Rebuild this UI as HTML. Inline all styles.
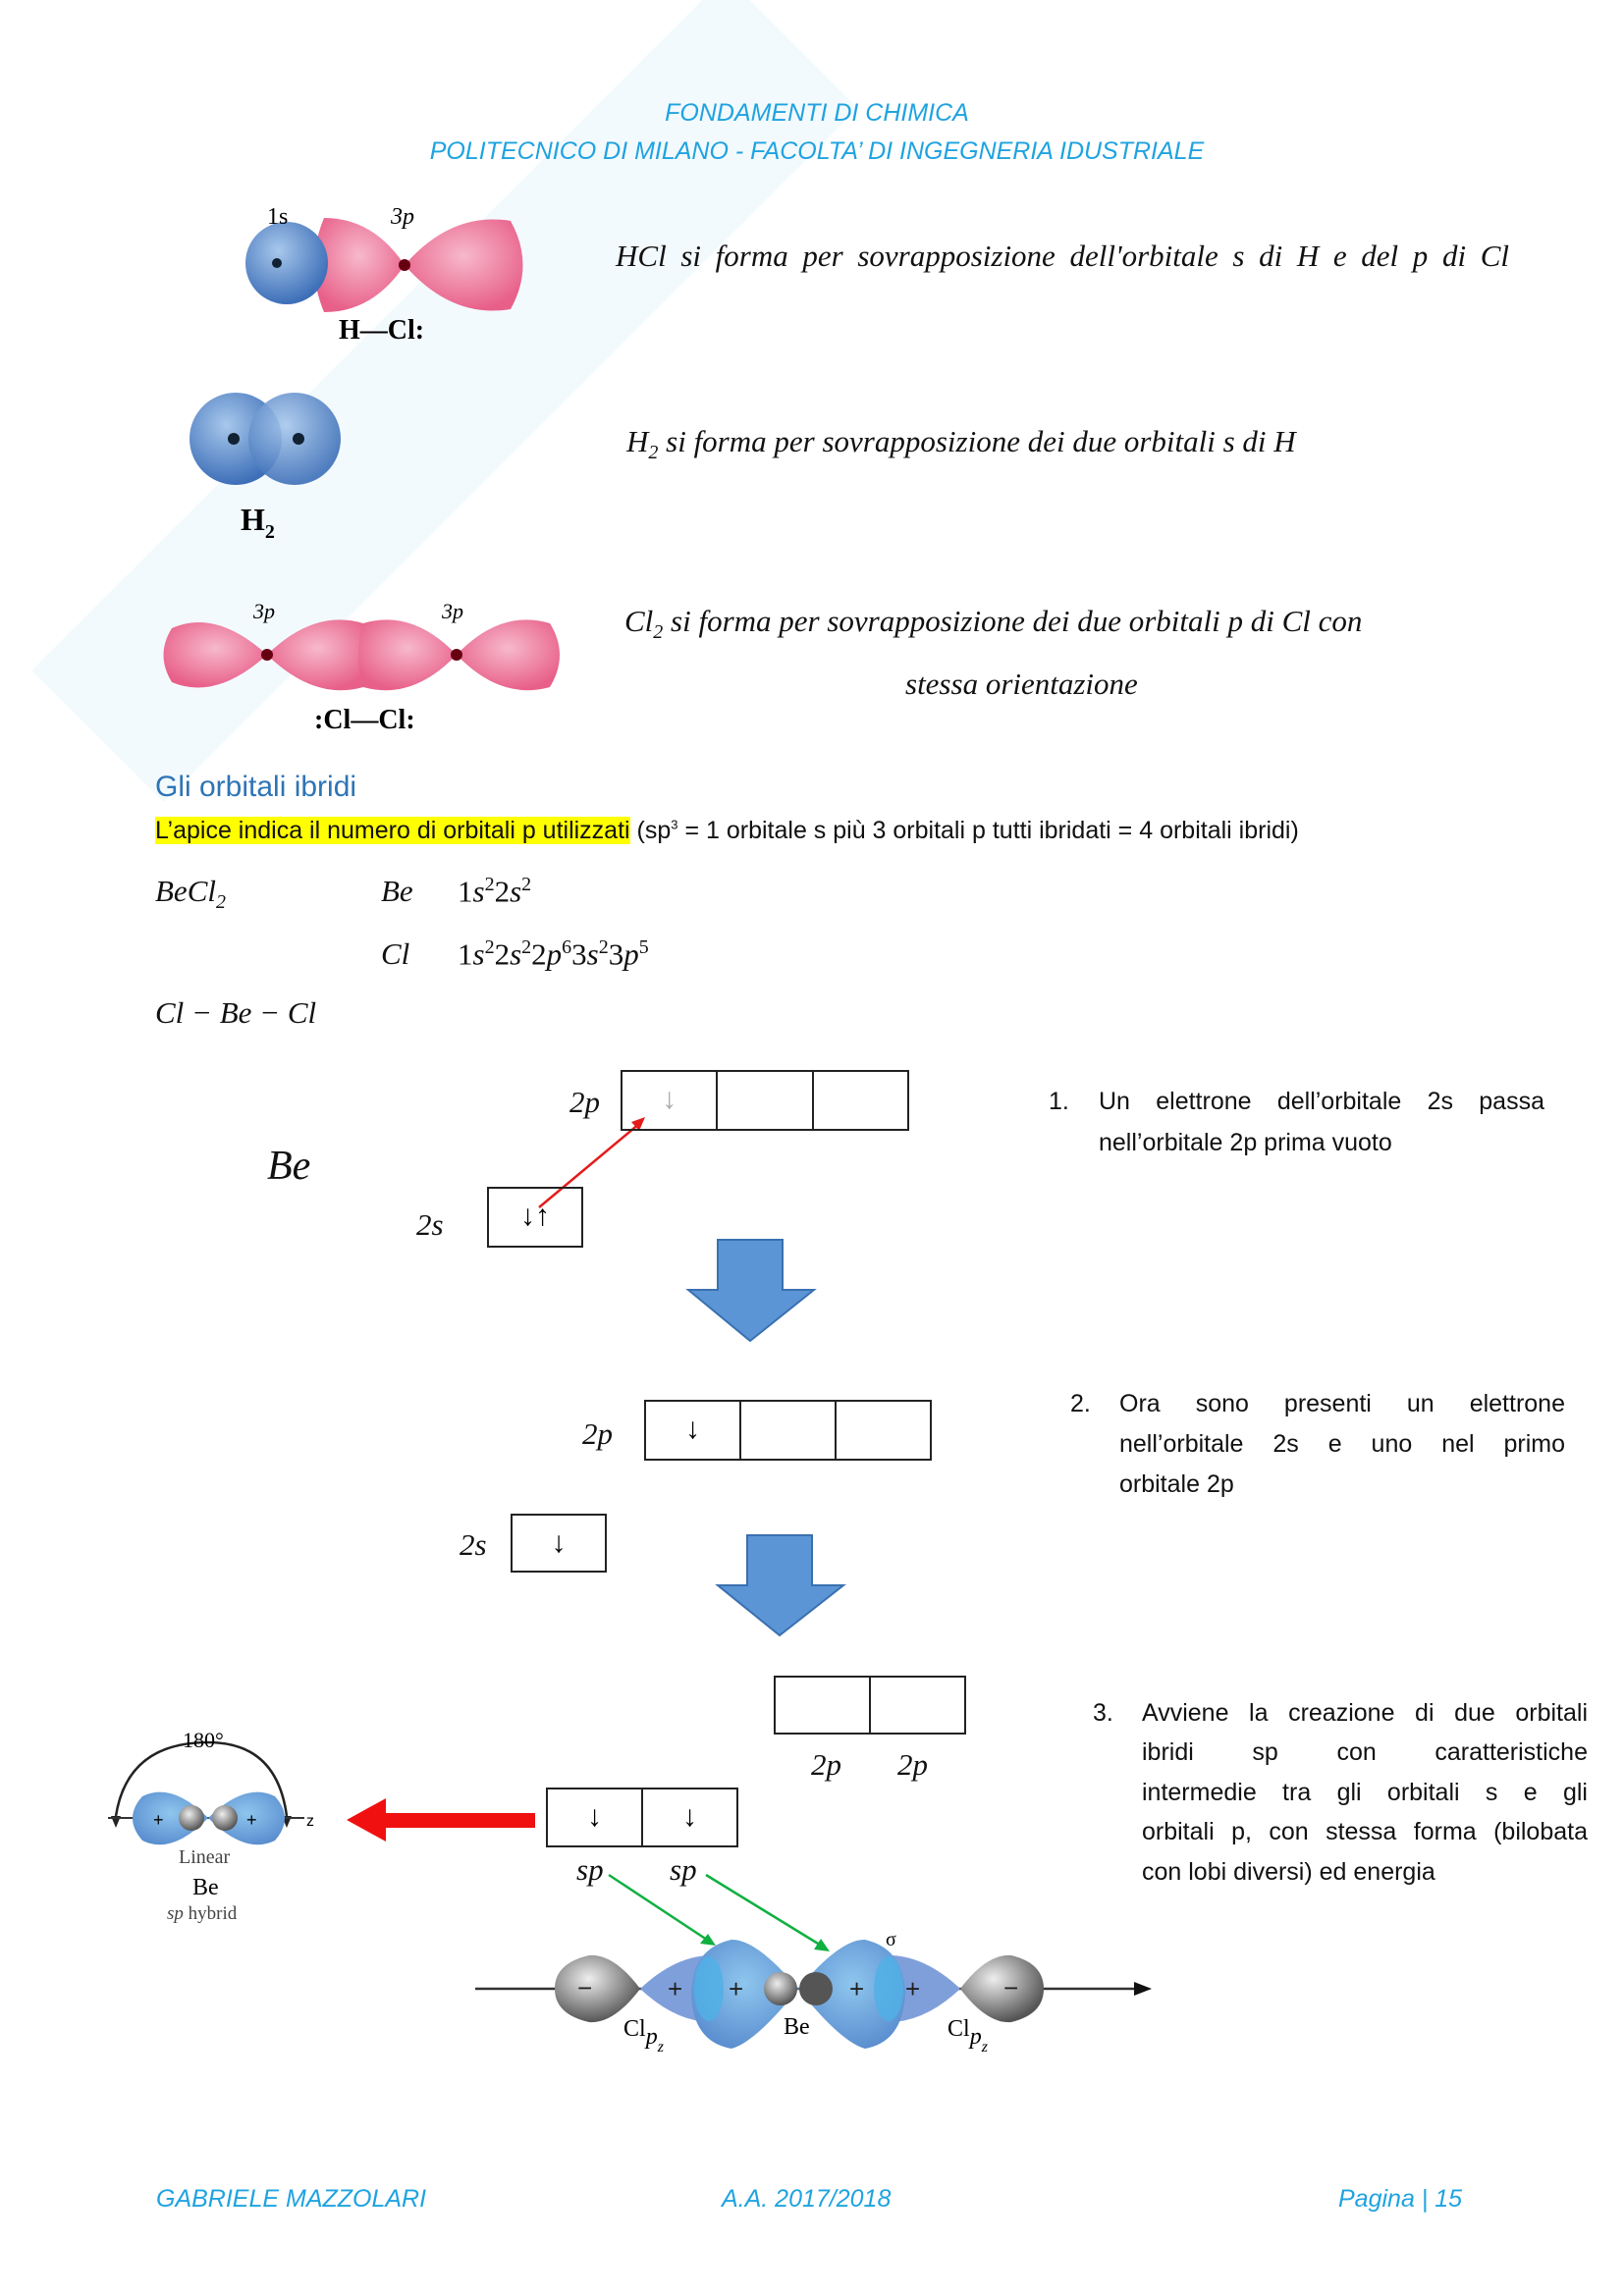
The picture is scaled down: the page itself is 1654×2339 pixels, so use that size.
<!DOCTYPE html>
<html><head><meta charset="utf-8">
<style>
body{margin:0;background:#fff;}
#p{position:relative;width:1654px;height:2339px;overflow:hidden;background:#fff;font-family:"Liberation Sans",sans-serif;}
.a{position:absolute;white-space:nowrap;}
.hd{color:#1fa3e0;font-style:italic;font-size:25px;}
.m{font-family:"Liberation Serif",serif;font-style:italic;font-size:31px;color:#111;}
.t{font-size:25px;color:#111;}
.j{text-align:justify;text-align-last:justify;white-space:normal;}
.box{position:absolute;border:2px solid #222;box-sizing:border-box;display:flex;}
.box div{flex:1;border-left:2px solid #222;font-size:30px;text-align:center;line-height:56px;}
.box div:first-child{border-left:none;}
</style></head><body><div id="p">
<svg class="a" style="left:0;top:0" width="1654" height="2339">
<defs>
<radialGradient id="pk" cx="50%" cy="40%" r="60%"><stop offset="0" stop-color="#f7b9cc"/><stop offset="1" stop-color="#e8608a"/></radialGradient>
<radialGradient id="bl" cx="40%" cy="35%" r="65%"><stop offset="0" stop-color="#a8c8ec"/><stop offset="1" stop-color="#3d6fb8"/></radialGradient>
<radialGradient id="lb" cx="50%" cy="40%" r="60%"><stop offset="0" stop-color="#8ec6ee"/><stop offset="1" stop-color="#5b8fd0"/></radialGradient>
<radialGradient id="gr" cx="40%" cy="35%" r="65%"><stop offset="0" stop-color="#eee"/><stop offset="1" stop-color="#555"/></radialGradient>
</defs>
<!-- watermark -->
<g opacity="0.06" transform="rotate(-45 400 400)"><rect x="-60" y="340" width="1000" height="190" fill="#3aa3e0"/></g>
<!-- HCl -->
<path d="M412 270 Q380 222 330 222 Q310 270 330 318 Q380 318 412 270Z" fill="url(#pk)"/>
<path d="M412 270 Q460 215 520 225 Q545 270 520 315 Q460 325 412 270Z" fill="url(#pk)"/>
<circle cx="292" cy="268" r="42" fill="url(#bl)"/><circle cx="282" cy="268" r="5" fill="#123"/>
<circle cx="412" cy="270" r="6" fill="#601"/>
<text x="272" y="228" font-family="Liberation Serif" font-size="24">1s</text>
<text x="398" y="228" font-family="Liberation Serif" font-size="24" font-style="italic">3p</text>
<text x="345" y="345" font-family="Liberation Serif" font-size="28" font-weight="bold">H—Cl:</text>
<!-- H2 -->
<circle cx="240" cy="447" r="47" fill="url(#bl)"/><circle cx="300" cy="447" r="47" fill="url(#bl)" opacity="0.9"/>
<circle cx="238" cy="447" r="6" fill="#123"/><circle cx="304" cy="447" r="6" fill="#123"/>
<text x="245" y="540" font-family="Liberation Serif" font-size="32" font-weight="bold">H<tspan font-size="20" dy="8">2</tspan></text>
<!-- Cl2 -->
<path d="M272 667 Q220 620 175 640 Q158 667 175 695 Q220 714 272 667Z" fill="url(#pk)"/>
<path d="M272 667 Q320 620 370 635 Q380 667 370 700 Q320 714 272 667Z" fill="url(#pk)"/>
<path d="M465 667 Q420 620 370 635 Q360 667 370 700 Q420 714 465 667Z" fill="url(#pk)"/>
<path d="M465 667 Q510 620 560 635 Q580 667 560 700 Q510 714 465 667Z" fill="url(#pk)"/>
<circle cx="272" cy="667" r="6" fill="#601"/><circle cx="465" cy="667" r="6" fill="#601"/>
<text x="258" y="630" font-family="Liberation Serif" font-size="22" font-style="italic">3p</text>
<text x="450" y="630" font-family="Liberation Serif" font-size="22" font-style="italic">3p</text>
<text x="320" y="742" font-family="Liberation Serif" font-size="28" font-weight="bold">:Cl—Cl:</text>
<!-- red arrow 1 -->
<line x1="549" y1="1230" x2="652" y2="1144" stroke="#e51b1b" stroke-width="2.5"/>
<polygon points="657,1138 643,1143 651,1152" fill="#e51b1b"/>
<!-- blue arrows -->
<polygon points="731,1263 797,1263 797,1314 829,1314 764,1366 701,1314 731,1314" fill="#5b95d5" stroke="#3a70b0" stroke-width="2"/>
<polygon points="761,1564 827,1564 827,1615 859,1615 794,1666 731,1615 761,1615" fill="#5b95d5" stroke="#3a70b0" stroke-width="2"/>
<!-- big red arrow -->
<rect x="385" y="1847" width="160" height="15" fill="#f01010"/>
<polygon points="353,1854 393,1832 393,1876" fill="#f01010"/>
<!-- green arrows -->
<line x1="620" y1="1910" x2="723" y2="1978" stroke="#10b040" stroke-width="2.5"/>
<polygon points="729,1982 713,1980 721,1970" fill="#10b040"/>
<line x1="719" y1="1910" x2="838" y2="1983" stroke="#10b040" stroke-width="2.5"/>
<polygon points="845,1988 829,1986 836,1975" fill="#10b040"/>
<!-- linear Be -->
<path d="M118 1850 Q130 1775 212 1775 Q282 1775 292 1850" fill="none" stroke="#222" stroke-width="2.5"/>
<polygon points="113,1850 123,1850 118,1862" fill="#222"/><polygon points="287,1850 297,1850 292,1862" fill="#222"/>
<line x1="110" y1="1852" x2="310" y2="1852" stroke="#333" stroke-width="2"/>
<path d="M212 1852 Q175 1815 145 1830 Q125 1852 145 1875 Q175 1890 212 1852Z" fill="url(#lb)"/>
<path d="M212 1852 Q250 1815 280 1830 Q300 1852 280 1875 Q250 1890 212 1852Z" fill="url(#lb)"/>
<circle cx="195" cy="1852" r="13" fill="url(#gr)"/><circle cx="229" cy="1852" r="13" fill="url(#gr)"/>
<text x="156" y="1860" font-size="18">+</text><text x="251" y="1860" font-size="18">+</text>
<text x="312" y="1860" font-size="16">z</text>
<text x="186" y="1780" font-family="Liberation Serif" font-size="22">180°</text>
<text x="182" y="1898" font-family="Liberation Serif" font-size="20" fill="#444">Linear</text>
<text x="196" y="1930" font-family="Liberation Serif" font-size="24">Be</text>
<text x="170" y="1955" font-family="Liberation Serif" font-size="19" fill="#444"><tspan font-style="italic">sp</tspan> hybrid</text>
<!-- bottom orbital -->
<line x1="484" y1="2026" x2="1160" y2="2026" stroke="#333" stroke-width="2.5"/>
<polygon points="1173,2026 1155,2019 1155,2033" fill="#111"/>
<path d="M652 2026 Q625 1990 600 1992 Q565 2000 565 2026 Q565 2052 600 2060 Q625 2062 652 2026Z" fill="url(#gr)"/>
<path d="M978 2026 Q1005 1990 1030 1992 Q1063 2000 1063 2026 Q1063 2052 1030 2060 Q1005 2062 978 2026Z" fill="url(#gr)"/>
<path d="M652 2026 Q690 1990 730 1992 L730 2060 Q690 2062 652 2026Z" fill="#7f9fdb"/>
<path d="M978 2026 Q940 1990 900 1992 L900 2060 Q940 2062 978 2026Z" fill="#7f9fdb"/>
<path d="M813 2026 Q770 1975 745 1976 Q705 1985 704 2030 Q705 2080 745 2087 Q770 2080 813 2026Z" fill="url(#lb)"/>
<path d="M813 2026 Q856 1975 881 1976 Q920 1985 922 2030 Q920 2080 881 2087 Q856 2080 813 2026Z" fill="url(#lb)"/>
<ellipse cx="722" cy="2026" rx="15" ry="33" fill="#4fb0e6" opacity="0.8"/>
<ellipse cx="905" cy="2026" rx="15" ry="33" fill="#4fb0e6" opacity="0.8"/>
<circle cx="795" cy="2026" r="17" fill="url(#gr)"/><circle cx="831" cy="2026" r="17" fill="#555"/>
<g font-size="26" fill="#222"><text x="680" y="2035">+</text><text x="742" y="2035">+</text><text x="865" y="2035">+</text><text x="922" y="2035">+</text><text x="588" y="2034">−</text><text x="1022" y="2034">−</text></g>
<g font-family="Liberation Serif" font-size="24"><text x="635" y="2074">Cl<tspan font-style="italic" dy="8">p</tspan><tspan font-style="italic" font-size="16" dy="8">z</tspan></text>
<text x="798" y="2072">Be</text>
<text x="965" y="2074">Cl<tspan font-style="italic" dy="8">p</tspan><tspan font-style="italic" font-size="16" dy="8">z</tspan></text>
<text x="902" y="1982" font-size="20">σ</text></g>
</svg>

<div class="a hd" style="left:0;width:1664px;text-align:center;top:101px">FONDAMENTI DI CHIMICA</div>
<div class="a hd" style="left:0;width:1664px;text-align:center;top:140px">POLITECNICO DI MILANO - FACOLTA’ DI INGEGNERIA IDUSTRIALE</div>

<div class="a m" style="left:627px;top:243px;width:910px;" ><span style="display:block" class="j">HCl si forma per sovrapposizione dell'orbitale s di H e del p di Cl</span></div>
<div class="a m" style="left:638px;top:432px">H<sub style="font-size:20px">2</sub> si forma per sovrapposizione dei due orbitali s di H</div>
<div class="a m" style="left:636px;top:615px">Cl<sub style="font-size:20px">2</sub> si forma per sovrapposizione dei due orbitali p di Cl con</div>
<div class="a m" style="left:922px;top:679px">stessa orientazione</div>

<div class="a" style="left:158px;top:785px;font-size:30px;color:#2e74b5">Gli orbitali ibridi</div>
<div class="a t" style="left:158px;top:832px;"><span style="background:#ffff00">L’apice indica il numero di orbitali p utilizzati</span> (sp<sup style="font-size:13px">3</sup> = 1 orbitale s più 3 orbitali p tutti ibridati = 4 orbitali ibridi)</div>

<div class="a m" style="left:158px;top:890px">BeCl<sub style="font-size:20px">2</sub></div>
<div class="a m" style="left:388px;top:890px">Be</div>
<div class="a m" style="left:466px;top:890px;font-style:normal">1<i>s</i><sup style="font-size:20px">2</sup>2<i>s</i><sup style="font-size:20px">2</sup></div>
<div class="a m" style="left:388px;top:954px">Cl</div>
<div class="a m" style="left:466px;top:954px;font-style:normal">1<i>s</i><sup style="font-size:20px">2</sup>2<i>s</i><sup style="font-size:20px">2</sup>2<i>p</i><sup style="font-size:20px">6</sup>3<i>s</i><sup style="font-size:20px">2</sup>3<i>p</i><sup style="font-size:20px">5</sup></div>
<div class="a m" style="left:158px;top:1014px">Cl − Be − Cl</div>

<div class="box" style="left:632px;top:1090px;width:294px;height:62px"><div style="color:#aaa">↓</div><div></div><div></div></div>
<div class="a m" style="left:580px;top:1105px">2p</div>
<div class="a m" style="left:272px;top:1164px;font-size:42px">Be</div>
<div class="box" style="left:496px;top:1209px;width:98px;height:62px"><div>↓↑</div></div>
<div class="a m" style="left:424px;top:1230px">2s</div>

<div class="a t" style="left:1068px;top:1108px">1.</div>
<div class="a t j" style="left:1119px;top:1108px;width:454px">Un elettrone dell’orbitale 2s passa</div>
<div class="a t" style="left:1119px;top:1150px">nell’orbitale 2p prima vuoto</div>

<div class="box" style="left:656px;top:1426px;width:293px;height:62px"><div>↓</div><div></div><div></div></div>
<div class="a m" style="left:593px;top:1443px">2p</div>
<div class="box" style="left:520px;top:1542px;width:98px;height:60px"><div>↓</div></div>
<div class="a m" style="left:468px;top:1556px">2s</div>

<div class="a t" style="left:1090px;top:1416px">2.</div>
<div class="a t j" style="left:1140px;top:1416px;width:454px">Ora sono presenti un elettrone</div>
<div class="a t j" style="left:1140px;top:1457px;width:454px">nell’orbitale 2s e uno nel primo</div>
<div class="a t" style="left:1140px;top:1498px">orbitale 2p</div>

<div class="box" style="left:788px;top:1707px;width:196px;height:60px"><div></div><div></div></div>
<div class="a m" style="left:826px;top:1780px">2p</div>
<div class="a m" style="left:914px;top:1780px">2p</div>
<div class="box" style="left:556px;top:1821px;width:196px;height:61px"><div>↓</div><div>↓</div></div>
<div class="a m" style="left:587px;top:1887px">sp</div>
<div class="a m" style="left:682px;top:1887px">sp</div>

<div class="a t" style="left:1113px;top:1731px">3.</div>
<div class="a t j" style="left:1163px;top:1731px;width:454px">Avviene la creazione di due orbitali</div>
<div class="a t j" style="left:1163px;top:1771px;width:454px">ibridi sp con caratteristiche</div>
<div class="a t j" style="left:1163px;top:1812px;width:454px">intermedie tra gli orbitali s e gli</div>
<div class="a t j" style="left:1163px;top:1852px;width:454px">orbitali p, con stessa forma (bilobata</div>
<div class="a t" style="left:1163px;top:1893px">con lobi diversi) ed energia</div>

<div class="a hd" style="left:159px;top:2226px">GABRIELE MAZZOLARI</div>
<div class="a hd" style="left:735px;top:2226px">A.A. 2017/2018</div>
<div class="a hd" style="left:1363px;top:2226px">Pagina | 15</div>
</div></body></html>
